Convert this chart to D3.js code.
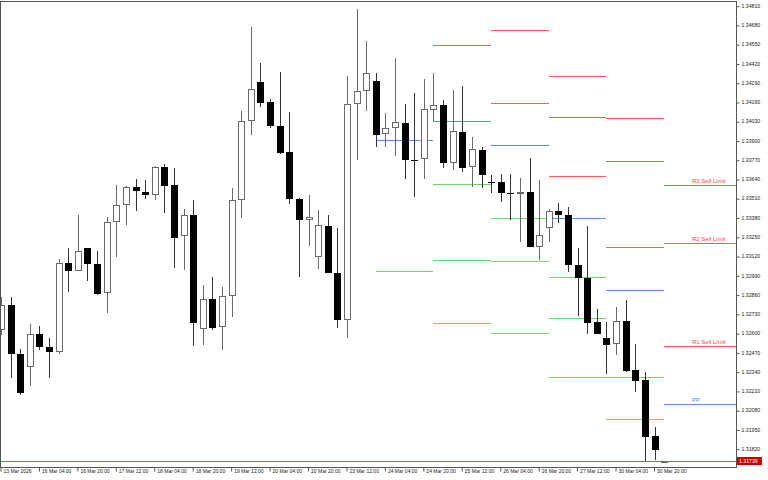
<!DOCTYPE html>
<html>
<head>
<meta charset="utf-8">
<script src="https://cdnjs.cloudflare.com/ajax/libs/d3/7.8.5/d3.min.js"></script>
<style>
  body { margin: 0; background: #fff; }
  svg { display: block; font-family: "Liberation Sans", Arial, sans-serif; }
</style>
</head>
<body>
<svg width="768" height="480"></svg>
<script>
// GBPUSD-ish H4 bars, one entry per bar
var opens = [1.32621, 1.32790, 1.32459, 1.32369, 1.32592, 1.32504, 1.32471, 1.33071, 1.33017, 1.33173,
  1.33065, 1.32869, 1.33348, 1.33463, 1.33588, 1.33555, 1.33530, 1.33719, 1.33600, 1.33256,
  1.33399, 1.32628, 1.32830, 1.32643, 1.32853, 1.33499, 1.34030, 1.34293, 1.34160, 1.33996,
  1.33825, 1.33507, 1.33366, 1.33114, 1.33325, 1.33008, 1.32689, 1.34146, 1.34236, 1.34302,
  1.33942, 1.33984, 1.34020, 1.33771, 1.33773, 1.34104, 1.34142, 1.33746, 1.33955, 1.33719,
  1.33838, 1.33622, 1.33620, 1.33544, 1.33539, 1.33553, 1.33183, 1.33308, 1.33426, 1.33395,
  1.33063, 1.32972, 1.32672, 1.32564, 1.32525, 1.32679, 1.32348, 1.32282, 1.31904, 1.31728];
var highs = [1.32844, 1.32842, 1.32493, 1.32662, 1.32648, 1.32565, 1.33098, 1.33177, 1.33395, 1.33177,
  1.33154, 1.33386, 1.33600, 1.33593, 1.33640, 1.33632, 1.33728, 1.33742, 1.33712, 1.33438,
  1.33499, 1.32925, 1.32981, 1.32913, 1.33582, 1.34099, 1.34668, 1.34421, 1.34180, 1.34364,
  1.34090, 1.33510, 1.33532, 1.33431, 1.33397, 1.33308, 1.34335, 1.34786, 1.34574, 1.34358,
  1.34084, 1.34455, 1.34148, 1.34223, 1.34313, 1.34354, 1.34173, 1.34239, 1.34268, 1.33926,
  1.33854, 1.33667, 1.33672, 1.33672, 1.33649, 1.33784, 1.33632, 1.33441, 1.33475, 1.33451,
  1.33177, 1.33322, 1.32765, 1.32675, 1.32773, 1.32824, 1.32525, 1.32336, 1.31969, 1.31740];
var lows = [1.32587, 1.32299, 1.32182, 1.32245, 1.32486, 1.32299, 1.32459, 1.32880, 1.33017, 1.32952,
  1.32860, 1.32734, 1.33112, 1.33328, 1.33426, 1.33503, 1.33499, 1.33409, 1.33038, 1.33026,
  1.32513, 1.32520, 1.32621, 1.32486, 1.32711, 1.33375, 1.33939, 1.34124, 1.33987, 1.33807,
  1.33474, 1.32981, 1.33190, 1.33033, 1.33005, 1.32633, 1.32565, 1.33768, 1.34099, 1.33858,
  1.33858, 1.33798, 1.33642, 1.33517, 1.33638, 1.34034, 1.33717, 1.33701, 1.33690, 1.33588,
  1.33578, 1.33544, 1.33483, 1.33364, 1.33217, 1.33180, 1.33094, 1.33217, 1.33345, 1.33015,
  1.32716, 1.32596, 1.32594, 1.32326, 1.32452, 1.32341, 1.32201, 1.31737, 1.31742, 1.31726];
var closes = [1.32790, 1.32459, 1.32198, 1.32592, 1.32504, 1.32471, 1.33071, 1.33017, 1.33156, 1.33065,
  1.32864, 1.33348, 1.33463, 1.33588, 1.33559, 1.33532, 1.33719, 1.33595, 1.33244, 1.33395,
  1.32670, 1.32830, 1.32633, 1.32853, 1.33499, 1.34034, 1.34246, 1.34155, 1.33996, 1.33816,
  1.33505, 1.33364, 1.33386, 1.33328, 1.33008, 1.32689, 1.34146, 1.34232, 1.34358, 1.33939,
  1.33984, 1.34023, 1.33766, 1.33766, 1.34115, 1.34142, 1.33746, 1.33962, 1.33715, 1.33841,
  1.33669, 1.33618, 1.33548, 1.33539, 1.33551, 1.33183, 1.33260, 1.33422, 1.33394, 1.33060,
  1.32970, 1.32668, 1.32595, 1.32518, 1.32679, 1.32346, 1.32279, 1.31901, 1.31809, 1.31739];

var timeLabels = ["13 Mar 2026", "16 Mar 04:00", "16 Mar 20:00", "17 Mar 12:00", "18 Mar 04:00",
  "18 Mar 20:00", "19 Mar 12:00", "20 Mar 04:00", "20 Mar 20:00", "23 Mar 12:00", "24 Mar 04:00",
  "24 Mar 20:00", "25 Mar 12:00", "26 Mar 04:00", "26 Mar 20:00", "27 Mar 12:00", "30 Mar 04:00",
  "30 Mar 20:00"];
var timeLabelBars = [0, 4, 8, 12, 16, 20, 24, 28, 32, 36, 40, 44, 48, 52, 56, 60, 64, 68];

var priceTicks = [1.34810, 1.34680, 1.34550, 1.34420, 1.34290, 1.34160, 1.34030, 1.33900,
  1.33770, 1.33640, 1.33510, 1.33380, 1.33250, 1.33120, 1.32990, 1.32860, 1.32730, 1.32600,
  1.32470, 1.32340, 1.32210, 1.32080, 1.31950, 1.31820];

// daily pivot levels: first bar of each day, PP, resistances, supports
var pivotStart = [39, 45, 51, 57, 63, 69];
var pivotPP = [1.33903, 1.34030, 1.33868, 1.33377, 1.32889, 1.32122];
var pivotR = [[], [1.34543], [1.34644, 1.34155], [1.34337, 1.34057, 1.33658],
  [1.34050, 1.33762, 1.33179], [1.33598, 1.33206, 1.32511]];
var pivotS = [[1.33021], [1.33605, 1.33094, 1.32668], [1.33377, 1.33090, 1.32599],
  [1.32981, 1.32700, 1.32304], [1.32307, 1.32021], []];
var lastRLabels = ["R3 Sell Limit", "R2 Sell Limit", "R1 Sell Limit"];
var lastPPLabel = "PP";

var currentPrice = 1.31739;

var svg = d3.select("svg");
var plotLeft = 0, plotRight = 736, plotTop = 1, plotBottom = 467;

var x = d3.scaleLinear().domain([0, 68]).range([1, 654.5]);
var y = d3.scaleLinear().domain([1.31820, 1.34810]).range([448.7, 5.67]);

var crisp = function (v) { return Math.round(v) + 0.5; };

var bars = opens.map(function (o, i) {
  return {i: i, o: o, h: highs[i], l: lows[i], c: closes[i]};
});

var redCol = "#ff5a5a", blueCol = "#5b8ee6", greenCol = "#6ad86a";

// pivot segments
var segs = [];
pivotStart.forEach(function (s, d) {
  var x1 = x(s);
  var x2 = d < pivotStart.length - 1 ? x(pivotStart[d + 1]) : plotRight;
  pivotR[d].forEach(function (v) { segs.push({x1: x1, x2: x2, v: v, col: redCol}); });
  pivotS[d].forEach(function (v) { segs.push({x1: x1, x2: x2, v: v, col: greenCol}); });
  segs.push({x1: x1, x2: x2, v: pivotPP[d], col: blueCol});
});

svg.append("g").attr("class", "levels")
  .selectAll("line").data(segs).enter().append("line")
  .attr("x1", function (d) { return Math.round(d.x1); })
  .attr("x2", function (d) { return Math.round(d.x2); })
  .attr("y1", function (d) { return crisp(y(d.v)); })
  .attr("y2", function (d) { return crisp(y(d.v)); })
  .attr("stroke", function (d) { return d.col; })
  .attr("stroke-width", 1);

// labels on the last day
var last = pivotStart.length - 1;
var labelData = pivotR[last].map(function (v, k) {
  return {v: v, t: lastRLabels[k], col: "#ff4040"};
});
labelData.push({v: pivotPP[last], t: lastPPLabel, col: "#4a7fe0"});
svg.append("g").selectAll("text").data(labelData).enter().append("text")
  .attr("x", 692)
  .attr("y", function (d) { return Math.round(y(d.v)) - 2; })
  .attr("fill", function (d) { return d.col; })
  .attr("font-size", "6px")
  .text(function (d) { return d.t; });

// candles
var candle = svg.append("g").attr("class", "candles")
  .selectAll("g").data(bars).enter().append("g");

candle.append("line")
  .attr("x1", function (d) { return Math.round(x(d.i)) + 0.5; })
  .attr("x2", function (d) { return Math.round(x(d.i)) + 0.5; })
  .attr("y1", function (d) { return Math.round(y(d.h)); })
  .attr("y2", function (d) { return Math.round(y(d.l)); })
  .attr("stroke", function (d) { return d.c >= d.o ? "#6a6a6a" : "#333"; })
  .attr("stroke-width", 1);

candle.append("rect")
  .attr("x", function (d) {
    var c = Math.round(x(d.i));
    return d.c >= d.o ? c - 2.5 : c - 3;
  })
  .attr("y", function (d) {
    var t = Math.round(y(Math.max(d.o, d.c)));
    return d.c >= d.o ? t + 0.5 : t;
  })
  .attr("width", function (d) { return d.c >= d.o ? 6 : 7; })
  .attr("height", function (d) {
    var h = Math.round(y(Math.min(d.o, d.c))) - Math.round(y(Math.max(d.o, d.c)));
    return d.c >= d.o ? Math.max(h - 1, 1) : Math.max(h, 1);
  })
  .attr("fill", function (d) { return d.c >= d.o ? "#fff" : "#000"; })
  .attr("stroke", function (d) { return d.c >= d.o ? "#6a6a6a" : "none"; })
  .attr("stroke-width", 1);

// current price line
svg.append("line")
  .attr("x1", plotLeft).attr("x2", plotRight)
  .attr("y1", crisp(y(currentPrice))).attr("y2", crisp(y(currentPrice)))
  .attr("stroke", "#e04848").attr("stroke-width", 1);

// frame
svg.append("rect")
  .attr("x", plotLeft + 0.5).attr("y", plotTop + 0.5)
  .attr("width", plotRight - plotLeft).attr("height", plotBottom - plotTop)
  .attr("fill", "none").attr("stroke", "#555").attr("stroke-width", 1);

// price axis
var yAxis = d3.axisRight(y)
  .tickValues(priceTicks)
  .tickSize(3)
  .tickPadding(2)
  .tickFormat(d3.format(".5f"));

var ya = svg.append("g")
  .attr("transform", "translate(" + (plotRight + 0.5) + ",0)")
  .call(yAxis);
ya.select(".domain").remove();
ya.selectAll(".tick line").attr("stroke", "#555")
  .attr("transform", function () { return "translate(0,0.5)"; });
ya.selectAll(".tick text")
  .attr("font-family", "Liberation Sans, Arial, sans-serif")
  .attr("font-size", "5.2px").attr("fill", "#222");

// current price tag
var cy = Math.round(y(currentPrice));
svg.append("rect")
  .attr("x", 737).attr("y", cy - 4)
  .attr("width", 25).attr("height", 8)
  .attr("fill", "#c80000");
svg.append("text")
  .attr("x", 739).attr("y", cy + 2)
  .attr("font-size", "5.2px").attr("fill", "#fff")
  .text(d3.format(".5f")(currentPrice));

// time axis
var xAxis = d3.axisBottom(x)
  .tickValues(timeLabelBars)
  .tickSize(4)
  .tickFormat(function (d, k) { return timeLabels[k]; });

var xa = svg.append("g")
  .attr("transform", "translate(0," + (plotBottom + 0.5) + ")")
  .call(xAxis);
xa.select(".domain").remove();
xa.selectAll(".tick line").attr("stroke", "#555")
  .attr("transform", "translate(-0.5,0)");
xa.selectAll(".tick text")
  .attr("text-anchor", "start")
  .attr("x", 2).attr("y", 2).attr("dy", "0.71em")
  .attr("font-family", "Liberation Sans, Arial, sans-serif")
  .attr("font-size", "5px").attr("fill", "#222");
</script>
</body>
</html>
